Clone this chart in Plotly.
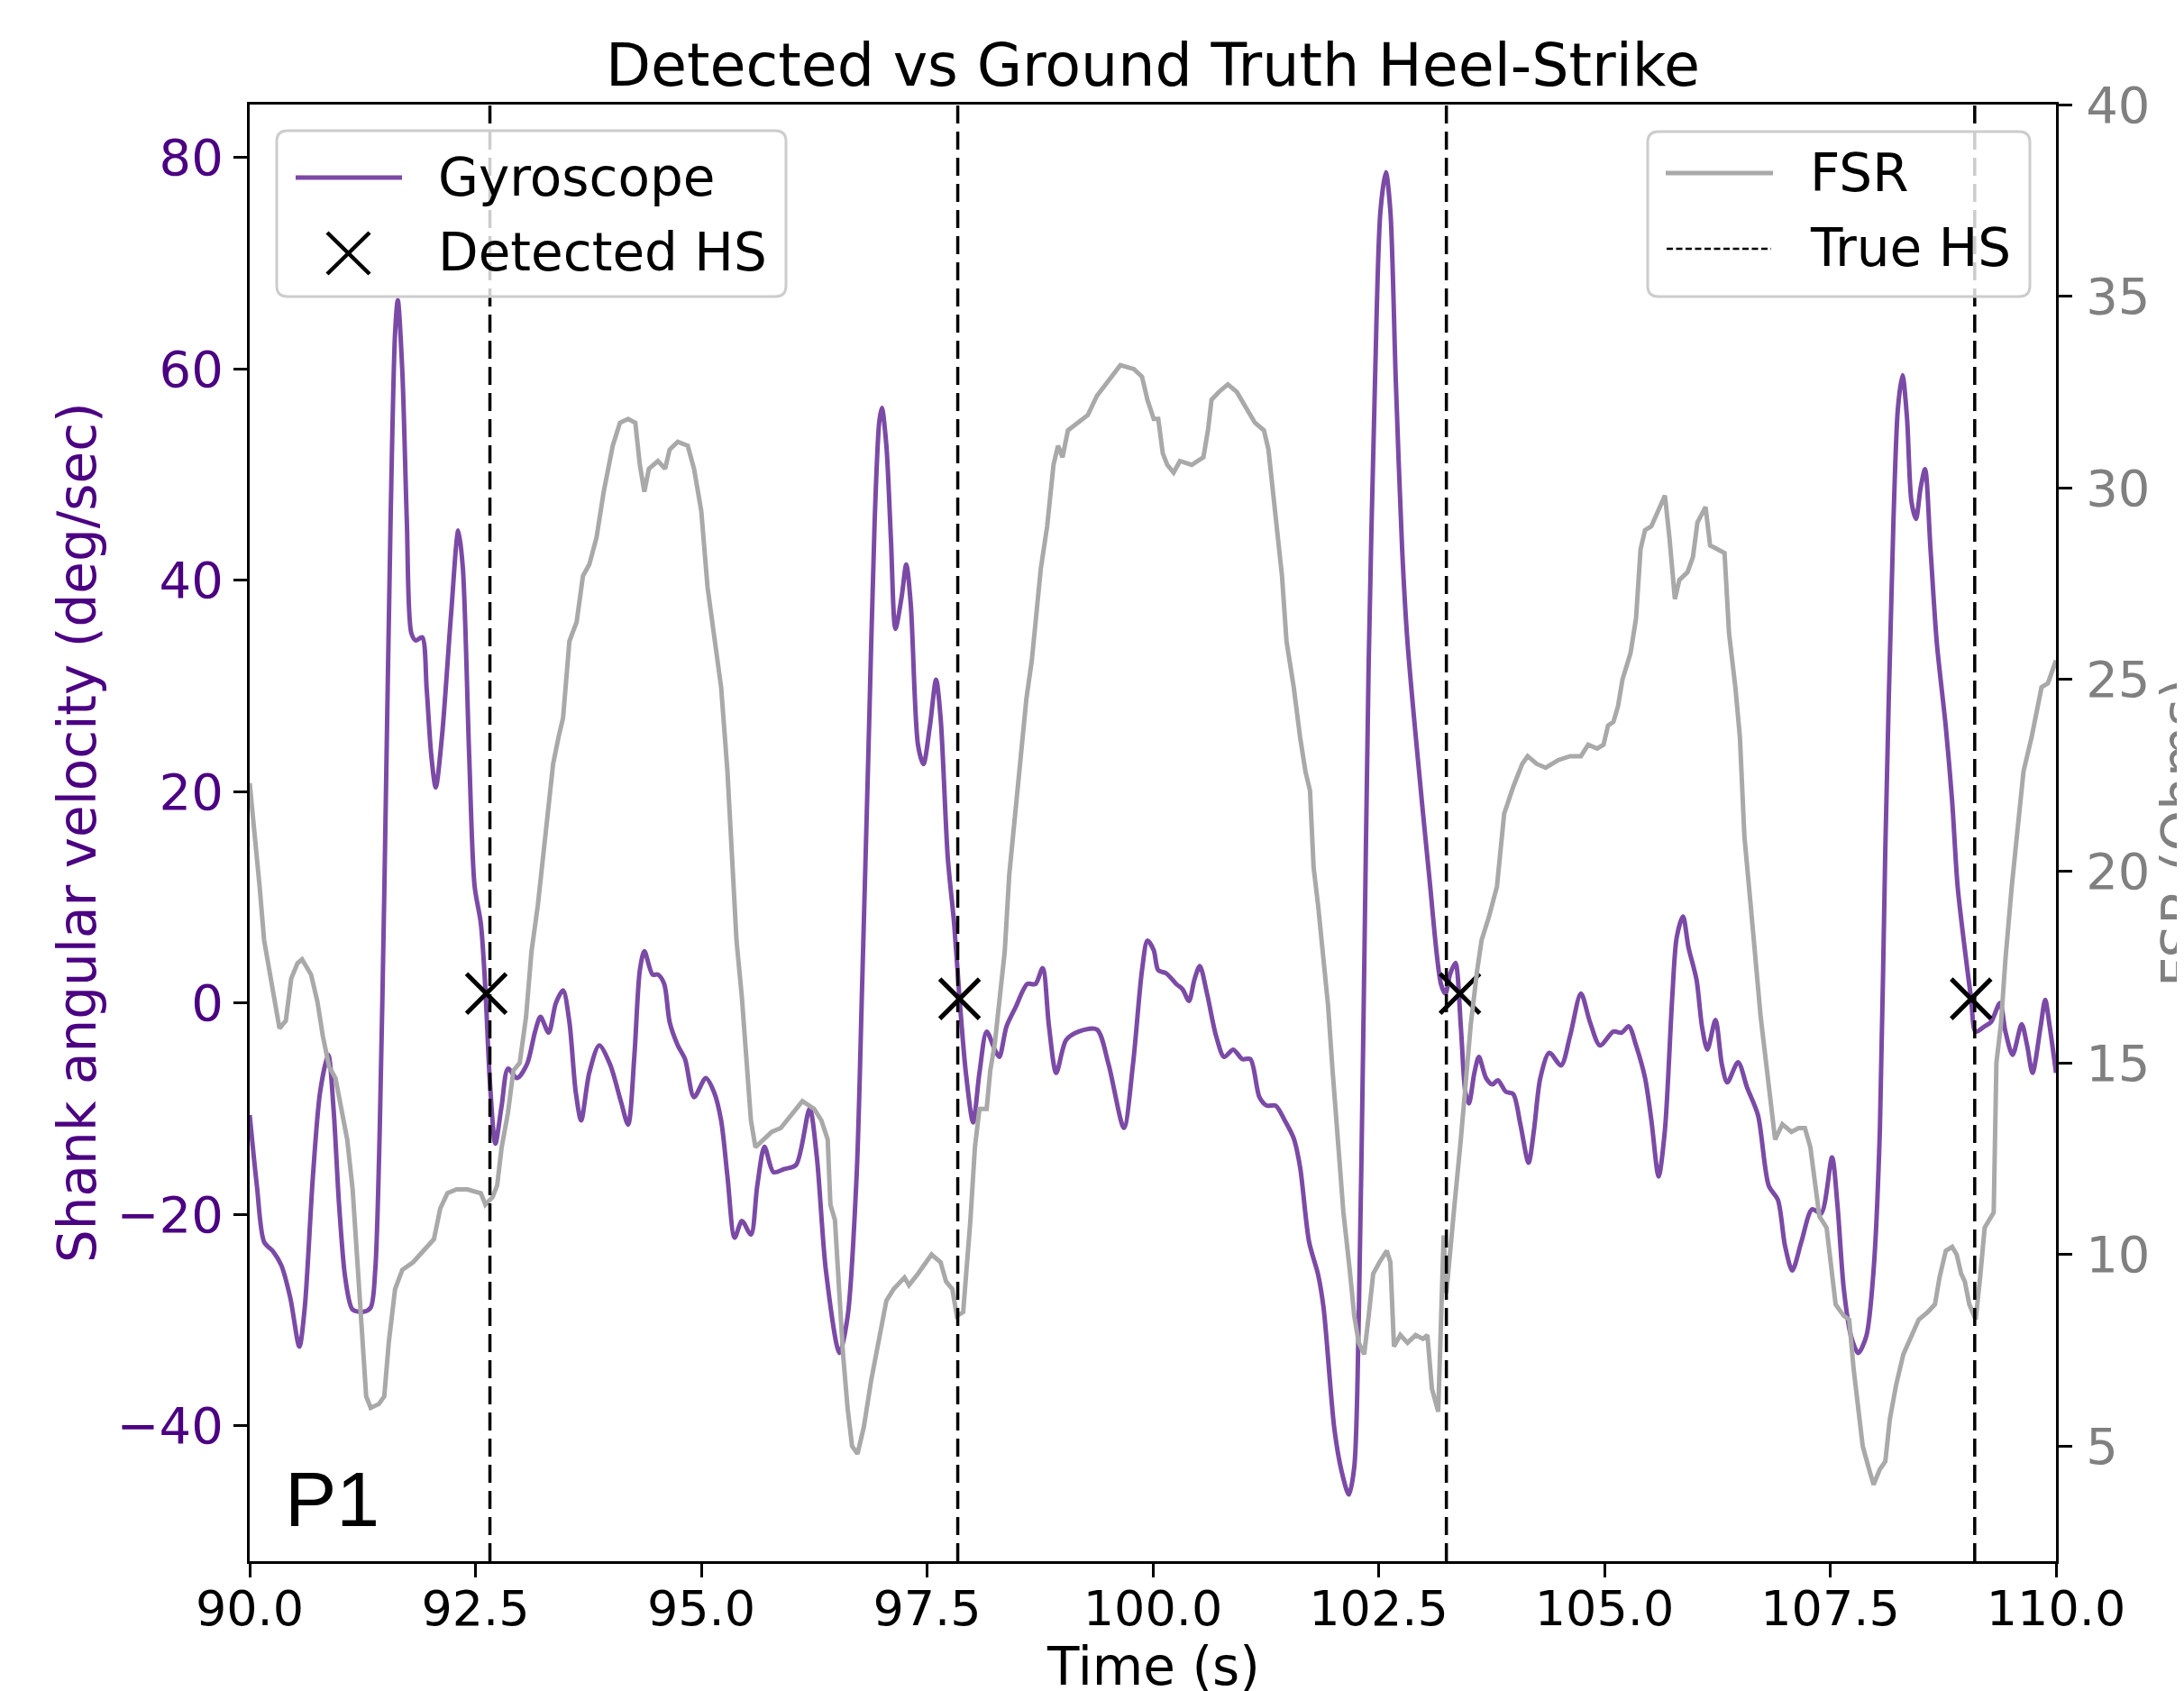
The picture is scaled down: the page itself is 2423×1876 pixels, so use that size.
import plotly.graph_objects as go

# ---------------- data ----------------
gyro_t = [90.00, 90.08, 90.16, 90.26, 90.35, 90.45, 90.55, 90.61, 90.70, 90.78, 90.87, 90.93, 90.99,
          91.06, 91.14, 91.26, 91.34, 91.39, 91.44, 91.49, 91.56, 91.61, 91.64, 91.69, 91.74, 91.79,
          91.84, 91.91, 91.96, 92.01, 92.06, 92.13, 92.23, 92.31, 92.36, 92.43, 92.49, 92.56, 92.61,
          92.66, 92.72, 92.79, 92.86, 92.96, 93.07, 93.16, 93.22, 93.31, 93.39, 93.47, 93.54, 93.61,
          93.67, 93.76, 93.87, 93.99, 94.11, 94.19, 94.26, 94.32, 94.37, 94.46, 94.52, 94.59, 94.65,
          94.74, 94.82, 94.92, 95.05, 95.14, 95.22, 95.29, 95.37, 95.45, 95.55, 95.62, 95.70, 95.80,
          95.92, 96.05, 96.20, 96.28, 96.38, 96.53, 96.62, 96.72, 96.78, 96.85, 96.92, 96.97, 97.00,
          97.05, 97.10, 97.15, 97.22, 97.27, 97.32, 97.40, 97.46, 97.53, 97.60, 97.65, 97.73, 97.80,
          97.86, 97.93, 98.01, 98.08, 98.16, 98.25, 98.30, 98.38, 98.48, 98.61, 98.70, 98.78, 98.85,
          98.93, 99.04, 99.18, 99.38, 99.51, 99.68, 99.78, 99.88, 99.94, 100.01, 100.06, 100.15,
          100.26, 100.33, 100.40, 100.46, 100.52, 100.60, 100.70, 100.79, 100.89, 100.99, 101.08,
          101.18, 101.26, 101.36, 101.46, 101.56, 101.63, 101.73, 101.83, 101.89, 102.01, 102.09,
          102.17, 102.23, 102.28, 102.33, 102.39, 102.46, 102.52, 102.58, 102.63, 102.69, 102.76,
          102.82, 102.92, 103.06, 103.19, 103.24, 103.29, 103.35, 103.41, 103.46, 103.50, 103.56,
          103.61, 103.69, 103.76, 103.82, 103.91, 103.99, 104.07, 104.16, 104.22, 104.29, 104.39,
          104.52, 104.62, 104.74, 104.84, 104.95, 105.10, 105.19, 105.27, 105.35, 105.45, 105.52,
          105.60, 105.67, 105.75, 105.80, 105.87, 105.93, 106.02, 106.08, 106.14, 106.23, 106.30,
          106.36, 106.48, 106.58, 106.70, 106.82, 106.92, 107.00, 107.08, 107.18, 107.30, 107.40,
          107.52, 107.58, 107.65, 107.73, 107.81, 107.90, 107.98, 108.05, 108.11, 108.20, 108.25,
          108.30, 108.35, 108.40, 108.45, 108.50, 108.55, 108.61, 108.68, 108.78, 108.85, 108.91,
          108.98, 109.06, 109.11, 109.21, 109.28, 109.38, 109.44, 109.52, 109.62, 109.68, 109.74,
          109.83, 109.88, 109.93, 110.00]
gyro_v = [-10.6, -17.3, -22.6, -23.5, -24.8, -27.9, -32.5, -28.8, -16.4, -8.4, -4.9, -10.2, -19.1,
          -26.1, -29.0, -29.2, -28.8, -25.3, -12.0, 10.2, 45.6, 63.4, 66.5, 59.8, 45.6, 35.0,
          34.3, 34.6, 29.7, 23.5, 20.4, 25.3, 36.8, 44.7, 41.2, 23.5, 11.1, 7.5, 1.3,
          -7.5, -13.3, -9.7, -6.2, -7.1, -5.8, -2.7, -1.3, -2.8, 0.0, 1.2, -1.8, -8.4,
          -11.1, -6.6, -4.0, -5.8, -9.3, -11.5, -4.9, 3.1, 4.9, 2.7, 2.7, 1.8, -1.8,
          -4.0, -5.3, -8.9, -7.1, -8.4, -11.1, -16.4, -22.2, -20.6, -21.9, -17.3, -13.6, -16.0,
          -15.7, -15.3, -10.0, -14.6, -25.3, -33.1, -29.7, -16.4, 1.3, 23.5, 45.6, 54.9, 56.3,
          52.7, 43.9, 35.4, 38.5, 41.5, 37.7, 24.4, 22.6, 26.1, 30.6, 27.0, 13.7, 7.5,
          0.4, -6.6, -11.3, -6.6, -2.7, -4.4, -5.1, -2.2, -0.4, 1.8, 1.8, 3.3, -2.2,
          -6.6, -3.5, -2.7, -2.5, -5.8, -11.8, -5.8, 3.1, 5.9, 5.0, 3.1, 2.8,
          1.8, 1.3, 0.2, 2.2, 3.5, 0.9, -3.1, -5.1, -4.4, -5.3, -5.3,
          -8.9, -9.7, -9.7, -11.1, -12.8, -15.5, -22.6, -25.7, -28.8, -40.3, -44.3,
          -46.5, -43.9, -29.7, -3.1, 32.3, 58.9, 74.9, 78.6, 74.9, 58.9, 43.0,
          34.1, 24.4, 12.0, 1.8, 0.9, 2.7, 3.8, -2.2, -8.4, -9.5, -6.6,
          -5.1, -7.1, -7.7, -7.3, -8.4, -8.6, -11.5, -15.1, -12.0, -7.1, -4.7,
          -5.9, -3.1, 0.9, -1.8, -4.0, -2.7, -2.8, -2.2, -4.0, -7.1, -11.1,
          -16.4, -12.0, 0.4, 6.2, 8.2, 5.3, 2.2, -2.2, -4.4, -1.6, -5.8,
          -7.5, -5.6, -8.0, -10.6, -17.3, -18.6, -23.0, -25.3, -22.6, -19.5, -19.9,
          -14.6, -19.1, -27.0, -31.5, -33.1, -31.5, -25.3, -12.0, 14.6, 45.6, 56.3,
          59.4, 55.4, 47.4, 45.8, 48.7, 50.5, 43.0, 34.1, 26.1, 19.1, 11.1,
          5.8, 0.4, -2.7, -2.2, -1.8, 0.0, -2.7, -4.9, -2.0, -4.0, -6.6,
          -2.2, 0.3, -2.2, -6.6]

fsr_t = [90.00, 90.06, 90.11, 90.16, 90.23, 90.28, 90.33, 90.40, 90.46, 90.53, 90.58, 90.68, 90.75,
         90.81, 90.88, 90.95, 91.01, 91.08, 91.14, 91.19, 91.24, 91.29, 91.34, 91.43, 91.49, 91.54,
         91.61, 91.69, 91.81, 91.93, 92.04, 92.11, 92.19, 92.29, 92.41, 92.56, 92.61, 92.69, 92.74,
         92.79, 92.86, 92.92, 92.99, 93.06, 93.12, 93.19, 93.26, 93.31, 93.36, 93.42, 93.47, 93.54,
         93.62, 93.69, 93.76, 93.84, 93.92, 94.02, 94.10, 94.19, 94.27, 94.32, 94.37, 94.42, 94.52,
         94.60, 94.65, 94.74, 94.85, 94.92, 95.00, 95.07, 95.14, 95.22, 95.29, 95.34, 95.39, 95.45,
         95.50, 95.55, 95.60, 95.69, 95.78, 95.88, 96.02, 96.12, 96.25, 96.33, 96.40, 96.43, 96.48,
         96.52, 96.57, 96.62, 96.67, 96.73, 96.80, 96.88, 96.97, 97.05, 97.13, 97.25, 97.30, 97.40,
         97.55, 97.65, 97.71, 97.78, 97.83, 97.90, 97.93, 97.98, 98.03, 98.08, 98.16, 98.20, 98.25,
         98.31, 98.36, 98.41, 98.46, 98.53, 98.60, 98.66, 98.71, 98.76, 98.83, 98.90, 98.95, 99.00,
         99.06, 99.18, 99.28, 99.38, 99.51, 99.64, 99.79, 99.88, 99.94, 100.01, 100.06, 100.11,
         100.16, 100.23, 100.30, 100.43, 100.56, 100.61, 100.65, 100.73, 100.83, 100.93, 101.03,
         101.13, 101.23, 101.28, 101.33, 101.38, 101.43, 101.48, 101.56, 101.63, 101.69, 101.74,
         101.78, 101.83, 101.89, 101.94, 101.99, 102.06, 102.11, 102.18, 102.23, 102.28, 102.34,
         102.39, 102.44, 102.51, 102.59, 102.63, 102.67, 102.74, 102.82, 102.91, 102.99, 103.04,
         103.09, 103.16, 103.21, 103.22, 103.25, 103.29, 103.34, 103.41, 103.46, 103.52, 103.59,
         103.64, 103.72, 103.81, 103.89, 103.99, 104.09, 104.15, 104.25, 104.35, 104.49, 104.62,
         104.74, 104.82, 104.92, 104.99, 105.04, 105.10, 105.15, 105.20, 105.29, 105.35, 105.40,
         105.45, 105.52, 105.59, 105.67, 105.72, 105.78, 105.83, 105.92, 105.98, 106.03, 106.12,
         106.17, 106.25, 106.33, 106.38, 106.45, 106.50, 106.55, 106.62, 106.68, 106.73, 106.80,
         106.85, 106.89, 106.97, 107.07, 107.15, 107.22, 107.28, 107.33, 107.38, 107.46, 107.51,
         107.56, 107.65, 107.71, 107.76, 107.81, 107.86, 107.93, 107.98, 108.05, 108.11, 108.16,
         108.23, 108.31, 108.38, 108.48, 108.58, 108.66, 108.71, 108.78, 108.85, 108.90, 108.95,
         108.99, 109.04, 109.11, 109.16, 109.21, 109.31, 109.34, 109.39, 109.44, 109.51, 109.58,
         109.64, 109.73, 109.79, 109.84, 109.91, 110.00]
fsr_v = [22.3, 20.9, 19.6, 18.2, 17.3, 16.7, 15.9, 16.1, 17.2, 17.6, 17.7, 17.3, 16.6,
         15.7, 14.9, 14.6, 13.8, 13.0, 11.7, 9.9, 7.7, 6.3, 6.0, 6.1, 6.3, 7.7,
         9.1, 9.6, 9.8, 10.1, 10.4, 11.2, 11.6, 11.7, 11.7, 11.6, 11.3, 11.5, 11.8,
         12.8, 13.7, 14.8, 15.0, 16.2, 17.9, 19.1, 20.6, 21.6, 22.8, 23.5, 24.0, 26.0,
         26.5, 27.7, 28.0, 28.7, 29.9, 31.1, 31.7, 31.8, 31.7, 30.6, 29.9, 30.5, 30.7,
         30.5, 31.0, 31.2, 31.1, 30.5, 29.4, 27.4, 26.2, 24.8, 22.6, 20.1, 18.2, 16.7,
         15.0, 13.5, 12.8, 13.0, 13.2, 13.3, 13.7, 14.0, 13.8, 13.5, 13.0, 11.3, 10.9,
         9.4, 7.4, 6.0, 5.0, 4.8, 5.5, 6.7, 7.9, 8.8, 9.1, 9.4, 9.2, 9.5,
         10.0, 9.8, 9.3, 9.1, 8.4, 8.5, 9.4, 10.9, 12.8, 13.8, 13.8, 14.8, 15.5,
         16.7, 17.9, 19.9, 21.1, 22.6, 24.5, 25.5, 26.7, 27.9, 29.0, 30.6, 31.1, 30.8,
         31.5, 31.7, 31.9, 32.4, 32.8, 33.2, 33.1, 32.9, 32.3, 31.8, 31.8, 30.9,
         30.6, 30.4, 30.7, 30.6, 30.8, 31.5, 32.3, 32.5, 32.7, 32.5, 32.1,
         31.7, 31.5, 31.0, 29.9, 28.7, 27.7, 26.0, 24.8, 23.5, 22.6, 22.1,
         20.1, 19.1, 17.6, 16.5, 14.8, 12.8, 11.1, 9.6, 8.4, 7.7, 7.4,
         8.4, 9.5, 9.8, 10.1, 9.8, 7.6, 7.9, 7.7, 7.9, 7.8, 7.9,
         6.5, 5.9, 9.4, 10.5, 9.0, 10.1, 11.3, 13.0, 14.3, 16.0, 17.4,
         18.2, 18.8, 19.6, 21.5, 22.2, 22.8, 23.0, 22.8, 22.7, 22.9, 23.0,
         23.0, 23.3, 23.2, 23.3, 23.8, 23.9, 24.3, 25.0, 25.7, 26.6, 28.4,
         28.9, 29.0, 29.4, 29.8, 28.7, 27.1, 27.6, 27.8, 28.2, 29.1, 29.5,
         28.5, 28.4, 28.3, 26.2, 24.8, 23.5, 20.9, 19.1, 17.4, 16.2, 14.8,
         13.8, 13.0, 13.4, 13.2, 13.3, 13.3, 12.8, 11.8, 11.0, 10.7, 9.6,
         8.7, 8.4, 8.3, 7.0, 6.0, 5.0, 4.4, 4.0, 4.4, 4.6, 5.7,
         6.6, 7.4, 7.8, 8.3, 8.5, 8.7, 9.4, 10.1, 10.2, 10.0, 9.5,
         9.3, 8.7, 8.3, 9.4, 10.7, 11.1, 15.0, 16.0, 17.7, 19.6, 21.3,
         22.6, 23.5, 24.3, 24.8, 24.9, 25.5]

detected_t = [92.62, 97.86, 103.40, 109.06]
detected_v = [0.9, 0.4, 0.9, 0.4]
true_hs_t = [92.66, 97.84, 103.25, 109.10]

x_ticks = [90.0, 92.5, 95.0, 97.5, 100.0, 102.5, 105.0, 107.5, 110.0]
x_ticklabels = ["90.0", "92.5", "95.0", "97.5", "100.0", "102.5", "105.0", "107.5", "110.0"]
y_ticks = [-40, -20, 0, 20, 40, 60, 80]
y_ticklabels = ["\u221240", "\u221220", "0", "20", "40", "60", "80"]
y2_ticks = [5, 10, 15, 20, 25, 30, 35, 40]
y2_ticklabels = ["5", "10", "15", "20", "25", "30", "35", "40"]

# ---------------- layout helpers ----------------
W, H = 2423, 1876
OFF = 8  # page body margin of the html page
L, R, T, B = 277, 2281, 116, 1732   # plot area in reference pixels


def px(x):
    return (x - L) / (R - L)


def py(y):
    return (B - y) / (B - T)


PURPLE = "#7B4AA6"
INDIGO = "#4B0082"
GREY_LINE = "#A9A9A9"
GREY_TXT = "#808080"
FONT = "DejaVu Sans"

fig = go.Figure()

fig.add_trace(go.Scatter(x=gyro_t, y=gyro_v, mode="lines", name="Gyroscope",
                         line=dict(color=PURPLE, width=5, shape="spline", smoothing=0.8),
                         yaxis="y", showlegend=False))
fig.add_trace(go.Scatter(x=detected_t, y=detected_v, mode="markers", name="Detected HS",
                         marker=dict(symbol="x-thin", size=44, color="black",
                                     line=dict(color="black", width=5)),
                         yaxis="y", showlegend=False))
fig.add_trace(go.Scatter(x=fsr_t, y=fsr_v, mode="lines", name="FSR",
                         line=dict(color=GREY_LINE, width=5),
                         yaxis="y2", showlegend=False))

for t in true_hs_t:
    fig.add_vline(x=t, line=dict(color="black", width=3.5, dash="20px,9px"))

fig.update_layout(
    width=W, height=H,
    paper_bgcolor="white", plot_bgcolor="white",
    margin=dict(l=L - OFF, r=W - R + OFF, t=T - OFF, b=H - B + OFF, autoexpand=False),
    showlegend=False,
    title=dict(text="Detected vs Ground Truth Heel-Strike", x=0.5, xref="paper", xanchor="center",
               y=1 - (72 - OFF) / H, yref="container", yanchor="middle",
               font=dict(family=FONT, size=65, color="black")),
    xaxis=dict(range=[90, 110], tickvals=x_ticks, ticktext=x_ticklabels,
               tickfont=dict(family=FONT, size=54, color="black"),
               ticks="outside", ticklen=15, tickwidth=3, tickcolor="black",
               showline=True, linecolor="black", linewidth=3, mirror=True,
               showgrid=False, zeroline=False, ticklabelstandoff=-12),
    yaxis=dict(range=[-52.8, 85], tickvals=y_ticks, ticktext=y_ticklabels,
               tickfont=dict(family=FONT, size=56, color=INDIGO),
               ticks="outside", ticklen=15, tickwidth=3, tickcolor="black",
               showline=True, linecolor="black", linewidth=3, mirror=False,
               showgrid=False, zeroline=False, ticklabelstandoff=0),
    yaxis2=dict(range=[2, 40], tickvals=y2_ticks, ticktext=y2_ticklabels, overlaying="y", side="right",
                tickfont=dict(family=FONT, size=56, color=GREY_TXT),
                ticks="outside", ticklen=15, tickwidth=3, tickcolor="black",
                showline=True, linecolor="black", linewidth=3,
                showgrid=False, zeroline=False, ticklabelstandoff=4),
)

# axis titles
fig.add_annotation(text="Time (s)", xref="paper", yref="paper", x=0.5, y=py(1849),
                   xanchor="center", yanchor="middle", showarrow=False,
                   font=dict(family=FONT, size=58, color="black"))
fig.add_annotation(text="Shank angular velocity (deg/sec)", xref="paper", yref="paper",
                   x=px(86), y=0.5, xanchor="center", yanchor="middle", textangle=-90,
                   showarrow=False, font=dict(family=FONT, size=58, color=INDIGO))
fig.add_annotation(text="FSR (Ohms)", xref="paper", yref="paper",
                   x=px(2384), y=0.5, xanchor="left", yanchor="middle", textangle=-90,
                   showarrow=False, font=dict(family=FONT, size=58, color=GREY_TXT))

# panel label
fig.add_annotation(text="P1", xref="paper", yref="paper", x=px(314), y=py(1663),
                   xanchor="left", yanchor="middle", showarrow=False,
                   font=dict(family="Liberation Sans, Arial", size=86, color="black"))


# legend boxes (rounded, matplotlib style)
def rounded_box(x0, y0, x1, y1, r=12):
    X0, X1 = px(x0), px(x1)
    Y0, Y1 = py(y1), py(y0)  # bottom, top in paper coords
    rx, ry = r / (R - L), r / (B - T)
    path = (f"M {X0 + rx},{Y0} L {X1 - rx},{Y0} Q {X1},{Y0} {X1},{Y0 + ry} "
            f"L {X1},{Y1 - ry} Q {X1},{Y1} {X1 - rx},{Y1} "
            f"L {X0 + rx},{Y1} Q {X0},{Y1} {X0},{Y1 - ry} "
            f"L {X0},{Y0 + ry} Q {X0},{Y0} {X0 + rx},{Y0} Z")
    fig.add_shape(type="path", path=path, xref="paper", yref="paper",
                  fillcolor="rgba(255,255,255,0.8)", line=dict(color="#cccccc", width=3),
                  layer="above")


def seg(x0, y0, x1, y1, color, width, dash="solid"):
    fig.add_shape(type="line", xref="paper", yref="paper",
                  x0=px(x0), y0=py(y0), x1=px(x1), y1=py(y1),
                  line=dict(color=color, width=width, dash=dash), layer="above")


def label(text, x, y):
    fig.add_annotation(text=text, xref="paper", yref="paper", x=px(x), y=py(y),
                       xanchor="left", yanchor="middle", showarrow=False,
                       font=dict(family=FONT, size=58, color="black"))


rounded_box(307, 145, 872, 329)
seg(328, 197, 446, 197, PURPLE, 5)
seg(363, 258, 410, 304, "black", 4.5)
seg(363, 304, 410, 258, "black", 4.5)
label("Gyroscope", 484, 197)
label("Detected HS", 484, 280)

rounded_box(1828, 146, 2252, 329)
seg(1848, 192, 1967, 192, GREY_LINE, 5)
seg(1849, 276, 1965, 276, "black", 2.5, "7px,3.5px")
label("FSR", 2006, 192)
label("True HS", 2006, 275)

fig.write_html("out.html")
